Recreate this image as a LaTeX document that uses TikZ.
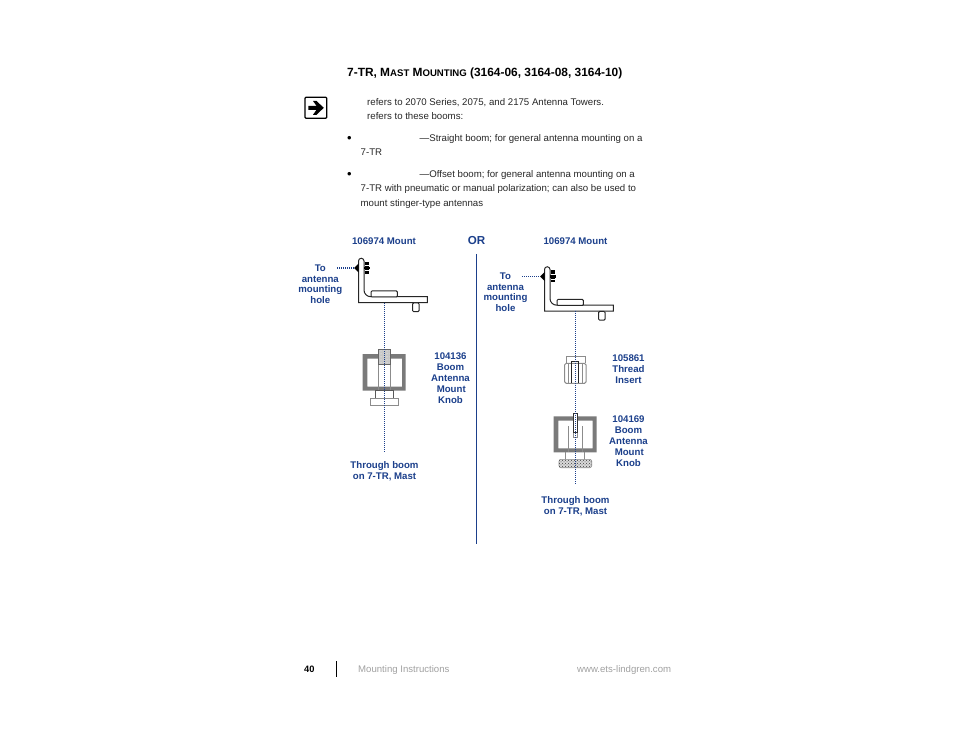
\documentclass[tikz,border=0pt]{standalone}
\usepackage{fontspec}
\setmainfont{Liberation Sans}
\usetikzlibrary{calc,patterns}
\definecolor{labelblue}{HTML}{1B3F8B}
\definecolor{footgray}{HTML}{A0A0A0}
\def\smallcap#1{{\fontsize{9.6}{12}\selectfont #1}}
\def\boltmount(#1){
	\begin{scope}[shift={(#1)}]
		\draw[partline, fill=white] (358.5, 261) arc (180:360:2.75) -- (364, 290) arc (180:90:6.7) -- (427.3, 296.7) -- (427.3, 302.7) -- (358.5, 302.7) -- cycle;
		\draw[partline, fill=white, rounded corners=1pt] (371, 291) rectangle (397.3, 297);
		\draw[partline, fill=white, rounded corners=1pt] (412.7, 303) rectangle (419, 311.7);
		\fill[black] (354, 268) -- (358.5, 263.5) -- (358.5, 272.5) -- cycle;
		\fill[black] (364, 266.6) rectangle (370, 269.4);
		\fill[black] (365.2, 262) rectangle (369, 274);
		\draw[white, line width=0.4pt] (365.2, 265.5) -- (369, 265.5) (365.2, 270.5) -- (369, 270.5);
	\end{scope}
}
\tikzset{
	pagetext/.style={anchor=base west, inner sep=0pt, font=\fontsize{9.66}{11}\selectfont, text=black!85},
	bullet/.style={anchor=base west, inner sep=0pt, font=\fontsize{13}{13}\selectfont},
	foottext/.style={anchor=base west, inner sep=0pt, font=\fontsize{9.6}{11}\selectfont, text=footgray},
	partlabel/.style={anchor=base, inner sep=0pt, align=center, font=\fontsize{9.65}{10.9}\selectfont\bfseries, text=labelblue},
	stacklabel/.style={partlabel, anchor=north},
	partline/.style={line width=1pt, color=black!85},
	lightline/.style={line width=0.6pt, color=black!45},
	boomwall/.style={fill=black!52, even odd rule},
	leader/.style={line width=1.2pt, color=labelblue, dash pattern=on 1pt off 1pt},
}
\begin{document}
\begin{tikzpicture}[x=1pt, y=-1pt]
	%%%%% START %%%%%
	\useasboundingbox (0, 0) rectangle (954, 738);
	
	\node[anchor=base west, inner sep=0pt, font=\fontsize{11.9}{14}\selectfont\bfseries] (title) at (347, 76.8) {7-TR, M\smallcap{AST} M\smallcap{OUNTING} (3164-06, 3164-08, 3164-10)};
	
	\draw[line width=1.2pt, rounded corners=1pt] (305, 97.3) rectangle (326.7, 118.3);
	\fill[black] (308.3, 105.8) -- (316.5, 105.8) -- (313, 101) -- (316.5, 101) -- (323.8, 107.8) -- (316.5, 114.8) -- (313, 114.8) -- (316.5, 109.8) -- (308.3, 109.8) -- cycle;
	
	\node[pagetext] (towers) at (367, 105.7) {refers to 2070 Series, 2075, and 2175 Antenna Towers.};
	\node[pagetext] (booms) at (367, 119.7) {refers to these booms:};
	\node[bullet] (bulletA) at (347, 142.8) {•};
	\node[pagetext] (straight) at (419.5, 141.5) {—Straight boom; for general antenna mounting on a};
	\node[pagetext] (straightB) at (360.5, 155.5) {7-TR};
	\node[bullet] (bulletB) at (347, 178.8) {•};
	\node[pagetext] (offset) at (419.5, 177.5) {—Offset boom; for general antenna mounting on a};
	\node[pagetext] (offsetB) at (360.5, 192) {7-TR with pneumatic or manual polarization; can also be used to};
	\node[pagetext] (offsetC) at (360.5, 206.5) {mount stinger-type antennas};
	
	\node[partlabel] (mountA) at (384, 244.5) {106974 Mount};
	\node[partlabel, font=\fontsize{11.6}{14}\selectfont\bfseries] (or) at (476.5, 244.5) {OR};
	\node[partlabel] (mountB) at (575.5, 244.5) {106974 Mount};
	
	\coordinate (splitTop) at (476.5, 254);
	\coordinate (splitEnd) at (476.5, 544);
	\draw[line width=1pt, color=labelblue] (splitTop) -- (splitEnd);
	
	% straight boom
	\boltmount(0, 0)
	\node[stacklabel] (holeA) at (320.3, 264.3) {To\\antenna\\mounting\\hole};
	\coordinate (holeAend) at (354, 268);
	\coordinate (holeAstart) at (337, 268);
	\draw[leader] (holeAstart) -- (holeAend);
	
	\fill[boomwall] (362.7, 354) rectangle (405.7, 390.7) (367.3, 358.7) rectangle (402, 386.7);
	\draw[lightline] (378.3, 364) -- (378.3, 390.7) (390.7, 364) -- (390.7, 390.7);
	\draw[lightline, fill=black!22] (378.3, 349.3) rectangle (390.7, 364);
	\draw[pattern=dots, pattern color=white, draw=black!60, line width=0.5pt] (378.3, 349.3) rectangle (390.7, 364);
	\draw[partline, color=black!65] (375.3, 398) -- (375.3, 390.7) -- (393.3, 390.7) -- (393.3, 398);
	\draw[lightline, fill=white] (370, 398) rectangle (398.3, 405);
	
	\coordinate (boomAtop) at (384.3, 303);
	\coordinate (boomAend) at (384.3, 453);
	\draw[leader] (boomAtop) -- (boomAend);
	
	\node[stacklabel] (knobA) at (450.5, 352.5) {104136\\Boom\\Antenna\\\hspace{1.5pt}Mount\\Knob};
	\node[stacklabel] (throughA) at (384.5, 461.3) {Through boom\\on 7-TR, Mast};
	
	% offset boom
	\boltmount(186, 8.5)
	\node[stacklabel] (holeB) at (505.5, 272.3) {To\\antenna\\mounting\\hole};
	\coordinate (holeBend) at (540, 276.5);
	\coordinate (holeBstart) at (522, 276.5);
	\draw[leader] (holeBstart) -- (holeBend);
	
	\draw[lightline] (566, 363.3) -- (566, 356) -- (585, 356) -- (585, 363.3);
	\draw[lightline, line width=1pt, fill=white, rounded corners=1.5pt] (564.7, 363.3) rectangle (586, 383.3);
	\draw[lightline] (568.5, 363.3) -- (568.5, 383.3) (582.2, 363.3) -- (582.2, 383.3);
	\draw[partline] (571.7, 383) -- (571.7, 361.7) -- (578.3, 361.7) -- (578.3, 383);
	
	\fill[boomwall] (553.7, 416.3) rectangle (596.7, 452.3) (558.3, 420.7) rectangle (592.7, 448.3);
	\draw[lightline] (568.3, 426) -- (568.3, 452) (582.3, 426) -- (582.3, 452);
	\draw[lightline, fill=white] (573.3, 432) rectangle (577.3, 437.3);
	\draw[line width=0.9pt, color=black!80, fill=white] (573.3, 413.3) rectangle (577.3, 432.3);
	\draw[lightline] (565.7, 452) -- (565.7, 460) (584.3, 452) -- (584.3, 460);
	\draw[lightline, fill=black!15, rounded corners=2pt] (559, 459.3) rectangle (591.7, 467.7);
	\fill[pattern=crosshatch dots, pattern color=black!75, rounded corners=2pt] (559, 459.3) rectangle (591.7, 467.7);
	
	\coordinate (boomBtop) at (575.3, 311);
	\coordinate (boomBend) at (575.3, 485);
	\draw[leader] (boomBtop) -- (boomBend);
	
	\node[stacklabel] (insert) at (628.5, 354.3) {105861\\Thread\\Insert};
	\node[stacklabel] (knobB) at (628.5, 415.8) {104169\\Boom\\Antenna\\\hspace{1.5pt}Mount\\Knob};
	\node[stacklabel] (throughB) at (575.5, 496.5) {Through boom\\on 7-TR, Mast};
	
	\node[anchor=base west, inner sep=0pt, font=\fontsize{9.3}{11}\selectfont\bfseries] (pagenum) at (304, 672) {40};
	\coordinate (footTop) at (336, 661);
	\coordinate (footEnd) at (336, 677);
	\draw[line width=1pt] (footTop) -- (footEnd);
	\node[foottext] (manual) at (358, 672) {Mounting Instructions};
	\node[foottext] (website) at (577, 672) {www.ets-lindgren.com};
	
	%%%%% END %%%%%
\end{tikzpicture}
\end{document}
